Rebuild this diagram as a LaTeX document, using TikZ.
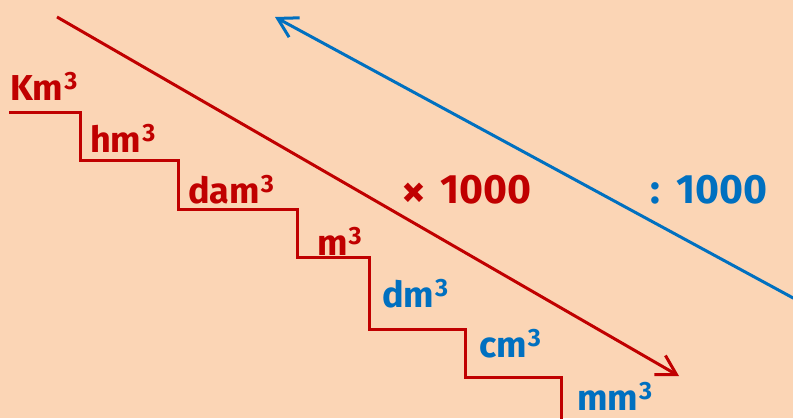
\documentclass[tikz,border=0pt]{standalone}
\usepackage{fontspec}
\setmainfont{Fira Sans}
\usetikzlibrary{arrows.meta}
\definecolor{bg}{HTML}{FBD5B5}
\definecolor{myred}{HTML}{C00000}
\definecolor{myblue}{HTML}{0070C0}
\newcommand\cubic[1]{#1\hspace{1pt}\raisebox{11pt}{\fontsize{25}{25}\selectfont 3}}
\tikzset{
  unitlbl/.style={anchor=base west, inner sep=0pt, font=\fontsize{36}{36}\selectfont\bfseries},
  oplbl/.style={anchor=base west, inner sep=0pt, font=\fontsize{41}{41}\selectfont\bfseries},
  stair/.style={draw=myred, line width=3pt, line join=miter},
  bigarrow/.style={line width=3pt, -{Straight Barb[length=19pt,width=22pt,line width=3pt]}}
}
\begin{document}
\begin{tikzpicture}[x=1pt,y=-1pt]
\fill[bg] (0,0) rectangle (793,418);
\useasboundingbox (0,0) rectangle (793,418);
% staircase
\draw[stair] (9,112) -- (80,112) -- (80,160) -- (178,160) -- (178,209) -- (297,209) -- (297,257) -- (369,257) -- (369,329) -- (465,329) -- (465,377) -- (561,377) -- (561,420);
% arrows
\coordinate (rs) at (57,17);
\coordinate (re) at (679,376);
\coordinate (bs) at (795,299);
\coordinate (be) at (275,17);
\draw[bigarrow, myred] (rs) -- (re);
\draw[bigarrow, myblue] (bs) -- (be);
% labels
\node[unitlbl, text=myred] (km) at (10,100) {\cubic{Km}};
\node[unitlbl, text=myred] (hm) at (90,152) {\cubic{hm}};
\node[unitlbl, text=myred] (dam) at (188,203) {\cubic{dam}};
\node[unitlbl, text=myred] (m) at (317,255) {\cubic{m}};
\node[unitlbl, text=myblue] (dm) at (382,307) {\cubic{dm}};
\node[unitlbl, text=myblue] (cm) at (479,357) {\cubic{cm}};
\node[unitlbl, text=myblue] (mm) at (577,410) {\cubic{mm}};
\node[oplbl, text=myred] (mul) at (401,203) {\raisebox{-4pt}{\fontsize{48}{48}\selectfont ×}\hspace{14pt}1000};
\node[oplbl, text=myblue] (div) at (650,203) {:\hspace{16pt}1000};
\end{tikzpicture}
\end{document}
